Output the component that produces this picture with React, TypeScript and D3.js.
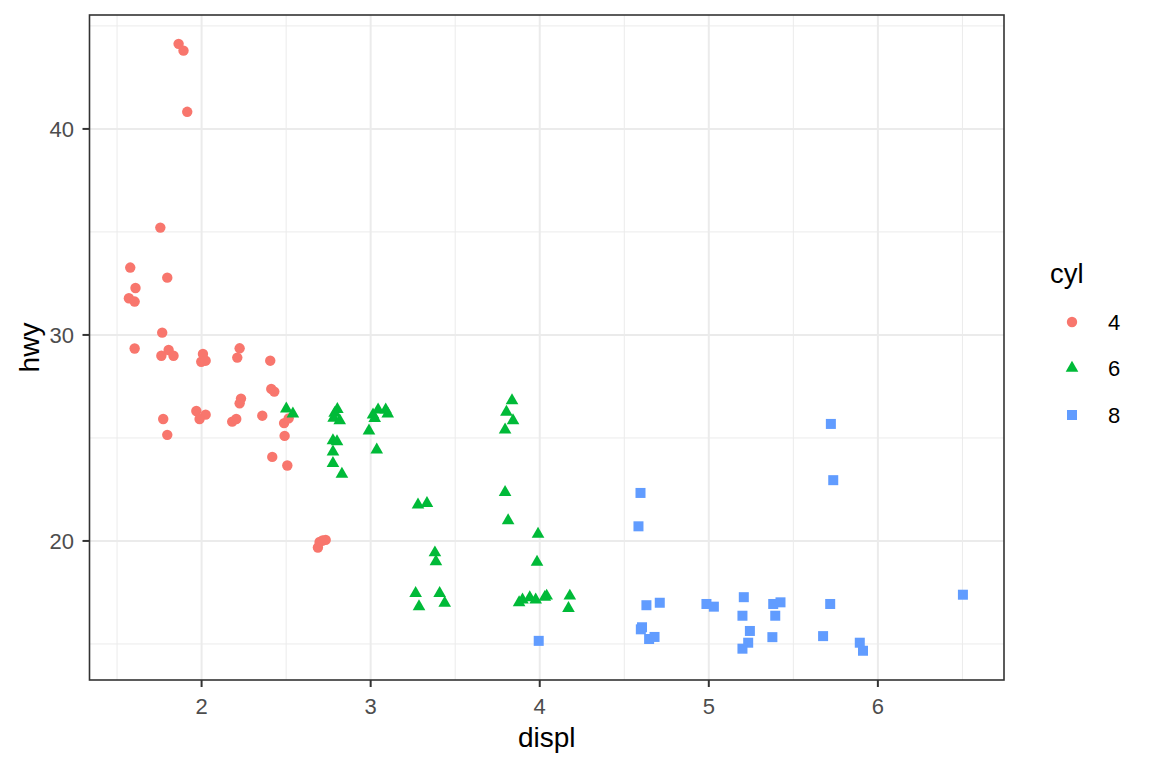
import React from "react";
import * as d3 from "d3";

const displ4 = [1.864,1.893,1.915,1.756,1.578,1.797,1.609,1.570,1.604,1.767,1.604,1.762,1.805,1.834,2.008,1.998,2.024,2.225,2.211,2.406,2.412,2.430,2.233,2.225,1.969,2.024,1.988,1.773,1.797,2.181,2.205,2.359,2.488,2.515,2.491,2.418,2.507,2.688,2.698,2.716,2.734];
const hwy4 = [44.13,43.80,40.83,35.21,33.27,32.78,32.28,31.78,31.62,30.11,29.34,28.99,29.27,28.99,29.08,28.70,28.75,29.35,28.90,28.75,27.38,27.25,26.91,26.68,26.31,26.13,25.92,25.92,25.15,25.79,25.92,26.08,25.72,25.95,25.10,24.08,23.66,19.68,19.95,20.02,20.05];

const displ6 = [2.501,2.540,2.803,2.787,2.781,2.817,2.777,2.801,2.777,2.777,2.830,2.990,3.014,3.044,3.024,3.089,3.101,3.036,3.280,3.333,3.836,3.803,3.842,3.795,3.795,3.813,3.990,3.984,3.380,3.386,3.266,3.286,3.408,3.438,3.878,3.898,3.941,3.976,4.030,4.041,4.178,4.170];
const hwy6 = [26.41,26.17,26.39,26.20,25.96,25.84,24.87,24.82,24.33,23.77,23.25,25.35,26.12,26.36,25.95,26.36,26.17,24.42,21.75,21.83,26.81,26.26,25.84,25.39,22.36,20.99,20.33,18.97,19.43,19.00,17.46,16.81,17.46,16.98,17.01,17.14,17.25,17.14,17.27,17.33,17.33,16.73];

const displ8 = [5.722,5.736,4.596,4.584,4.631,4.710,4.986,5.030,5.207,5.381,5.424,5.718,5.199,5.393,4.605,4.598,4.647,4.679,5.243,5.233,5.199,5.376,5.676,5.893,5.912,6.503,3.994];
const hwy8 = [25.68,22.95,22.33,20.71,16.88,17.00,16.94,16.81,17.27,16.94,17.02,16.94,16.37,16.37,15.81,15.71,15.24,15.34,15.63,15.06,14.77,15.33,15.38,15.06,14.67,17.39,15.15];

const cylLevels = ["4", "6", "8"];
const cylColors = ["#F8766D", "#00BA38", "#619CFF"];
const xTicks = [2, 3, 4, 5, 6];
const xMinor = [1.5, 2.5, 3.5, 4.5, 5.5, 6.5];
const yTicks = [20, 30, 40];
const yMinor = [15, 25, 35, 45];

const FONT = "'Liberation Sans', Arial, Helvetica, sans-serif";

function Shape({ kind, x, y, color }: { kind: number; x: number; y: number; color: string }) {
  if (kind === 0) return <circle cx={x} cy={y} r={5.2} fill={color} />;
  if (kind === 1) {
    const r = 7.3;
    const xc = r * 0.866;
    const yc = r / 2;
    return <polygon points={`${x},${y - r} ${x + xc},${y + yc} ${x - xc},${y + yc}`} fill={color} />;
  }
  return <rect x={x - 5} y={y - 5} width={10} height={10} fill={color} />;
}

export default function App() {
  const left = 89.5, right = 1004, top = 15, bottom = 680;
  const x = d3.scaleLinear().domain([1.337, 6.746]).range([left, right]);
  const y = d3.scaleLinear().domain([13.25, 45.53]).range([bottom, top]);

  const groups = [
    { d: displ4, h: hwy4 },
    { d: displ6, h: hwy6 },
    { d: displ8, h: hwy8 },
  ];

  const legendY = [322, 368, 415];

  return (
    <svg width={1152} height={768} style={{ position: "absolute", left: 0, top: 0, background: "#fff" }} fontFamily={FONT}>
      <rect x={0} y={0} width={1152} height={768} fill="#fff" />
      {/* minor grid */}
      {xMinor.map((v) => (
        <line key={"xm" + v} x1={x(v)} x2={x(v)} y1={top} y2={bottom} stroke="#EBEBEB" strokeWidth={1} />
      ))}
      {yMinor.filter((v) => y(v) > top && y(v) < bottom).map((v) => (
        <line key={"ym" + v} x1={left} x2={right} y1={y(v)} y2={y(v)} stroke="#EBEBEB" strokeWidth={1} />
      ))}
      {/* major grid */}
      {xTicks.map((v) => (
        <line key={"xM" + v} x1={x(v)} x2={x(v)} y1={top} y2={bottom} stroke="#EBEBEB" strokeWidth={2} />
      ))}
      {yTicks.map((v) => (
        <line key={"yM" + v} x1={left} x2={right} y1={y(v)} y2={y(v)} stroke="#EBEBEB" strokeWidth={2} />
      ))}
      {/* points */}
      {groups.map((g, gi) =>
        g.d.map((dv, i) => (
          <Shape key={gi + "-" + i} kind={gi} x={x(dv)} y={y(g.h[i])} color={cylColors[gi]} />
        ))
      )}
      {/* panel border */}
      <rect x={left} y={top} width={right - left} height={bottom - top} fill="none" stroke="#333333" strokeWidth={1.6} />
      {/* x axis ticks */}
      {xTicks.map((v) => (
        <g key={"xt" + v}>
          <line x1={x(v)} x2={x(v)} y1={bottom} y2={bottom + 7} stroke="#333333" strokeWidth={2} />
          <text x={x(v)} y={714} textAnchor="middle" fontSize={22} fill="#4D4D4D">{v}</text>
        </g>
      ))}
      {/* y axis ticks */}
      {yTicks.map((v) => (
        <g key={"yt" + v}>
          <line x1={left - 7} x2={left} y1={y(v)} y2={y(v)} stroke="#333333" strokeWidth={2} />
          <text x={74} y={y(v)} dy="0.36em" textAnchor="end" fontSize={22} fill="#4D4D4D">{v}</text>
        </g>
      ))}
      {/* axis titles */}
      <text x={(left + right) / 2} y={747} textAnchor="middle" fontSize={28} fill="#000">displ</text>
      <text transform={`translate(39,${(top + bottom) / 2}) rotate(-90)`} textAnchor="middle" fontSize={28} fill="#000">hwy</text>
      {/* legend */}
      <text x={1050} y={283} fontSize={27.5} fill="#000">cyl</text>
      {cylLevels.map((lab, i) => (
        <g key={"lg" + lab}>
          <Shape kind={i} x={1072} y={legendY[i]} color={cylColors[i]} />
          <text x={1108} y={legendY[i]} dy="0.36em" fontSize={22} fill="#000">{lab}</text>
        </g>
      ))}
    </svg>
  );
}
